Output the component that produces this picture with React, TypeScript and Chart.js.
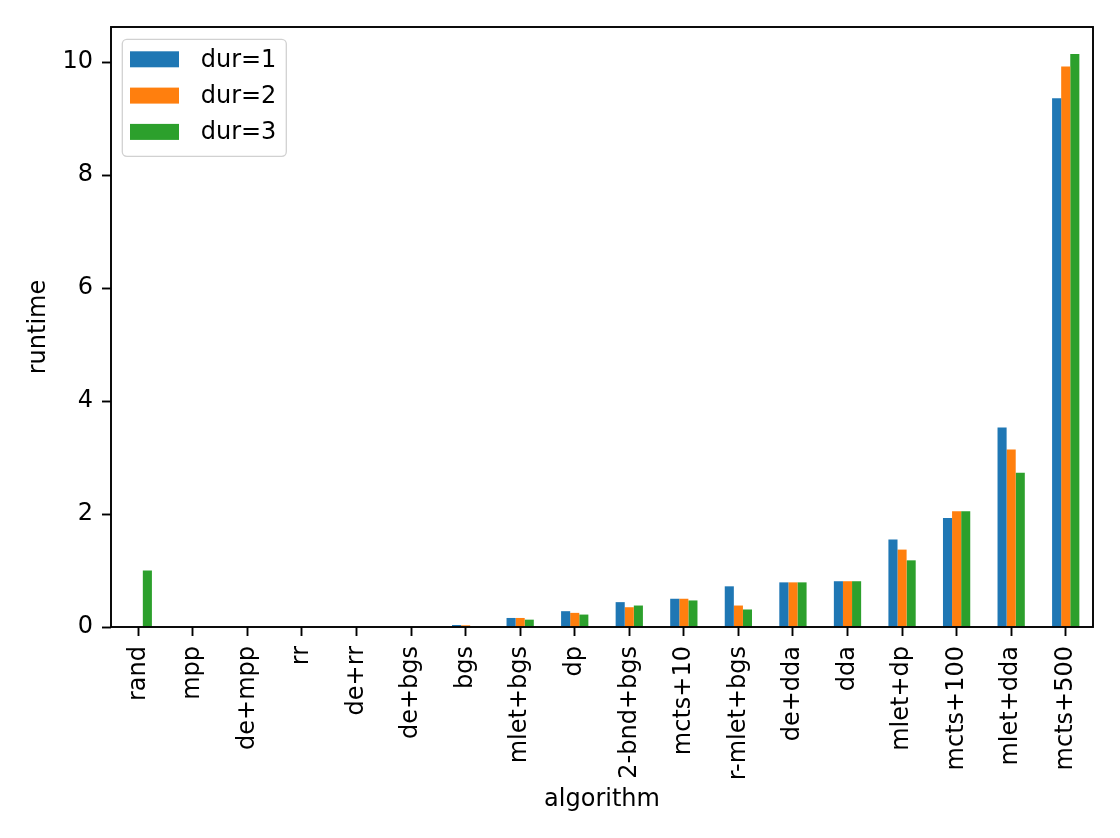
import React, { useEffect, useRef } from 'react';
import { Chart, registerables } from 'chart.js';

Chart.register(...registerables);

const categories = [
  'rand', 'mpp', 'de+mpp', 'rr', 'de+rr', 'de+bgs', 'bgs', 'mlet+bgs', 'dp',
  '2-bnd+bgs', 'mcts+10', 'r-mlet+bgs', 'de+dda', 'dda', 'mlet+dp', 'mcts+100',
  'mlet+dda', 'mcts+500',
];

const dur1 = [0, 0, 0, 0, 0, 0, 0.035, 0.16, 0.28, 0.44, 0.5, 0.72, 0.79, 0.81, 1.55, 1.93, 3.53, 9.36];
const dur2 = [0, 0, 0, 0, 0, 0, 0.03, 0.16, 0.25, 0.35, 0.5, 0.38, 0.79, 0.81, 1.37, 2.05, 3.14, 9.92];
const dur3 = [1.0, 0, 0, 0, 0, 0, 0.01, 0.13, 0.22, 0.38, 0.47, 0.31, 0.79, 0.81, 1.18, 2.05, 2.73, 10.14];

const seriesLabels = ['dur=1', 'dur=2', 'dur=3'];
const seriesColors = ['#1f77b4', '#ff7f0e', '#2ca02c'];
const yTickValues = [0, 2, 4, 6, 8, 10];

const FONT = 'DejaVu Sans';
const FS = 24;

const framePlugin = {
  id: 'mplFrame',
  afterDraw(chart: any) {
    const { ctx, chartArea } = chart;
    ctx.save();
    ctx.strokeStyle = '#000';
    ctx.lineWidth = 1.9;
    ctx.strokeRect(chartArea.left, chartArea.top, chartArea.right - chartArea.left, chartArea.bottom - chartArea.top);

    // legend
    const x0 = chartArea.left + 11.3;
    const y0 = chartArea.top + 12.3;
    ctx.beginPath();
    ctx.roundRect(x0, y0, 164, 117, 4.5);
    ctx.fillStyle = 'rgba(255,255,255,0.8)';
    ctx.fill();
    ctx.strokeStyle = 'rgba(204,204,204,0.9)';
    ctx.lineWidth = 1.3;
    ctx.stroke();
    ctx.font = `${FS}px "${FONT}"`;
    ctx.textBaseline = 'middle';
    ctx.textAlign = 'left';
    chart.data.datasets.forEach((ds: any, i: number) => {
      const cy = chartArea.top + 32.3 + i * 36.3;
      ctx.fillStyle = ds.backgroundColor;
      ctx.fillRect(chartArea.left + 19, cy - 8, 49, 16);
      ctx.fillStyle = '#000';
      ctx.fillText(ds.label, chartArea.left + 89.7, cy + 1);
    });
    ctx.restore();
  },
};

export default function App() {
  const ref = useRef<HTMLCanvasElement>(null);
  useEffect(() => {
    const values = [dur1, dur2, dur3];
    const chart = new Chart(ref.current as HTMLCanvasElement, {
      type: 'bar',
      data: {
        labels: categories,
        datasets: seriesLabels.map((label, i) => ({
          label,
          data: values[i],
          backgroundColor: seriesColors[i],
          borderWidth: 0,
          categoryPercentage: 0.5,
          barPercentage: 1.0,
        })),
      },
      options: {
        responsive: false,
        animation: false,
        layout: { padding: { top: 27, right: 27, left: 0, bottom: 0 } },
        plugins: {
          legend: { display: false },
          tooltip: { enabled: false },
        },
        scales: {
          x: {
            offset: true,
            grid: {
              display: true,
              offset: false,
              drawOnChartArea: false,
              drawTicks: true,
              tickLength: 9,
              tickWidth: 1.9,
              tickColor: '#000',
              color: '#000',
            },
            border: { display: false },
            ticks: {
              autoSkip: false,
              minRotation: 90,
              maxRotation: 90,
              padding: 10,
              color: '#000',
              font: { family: FONT, size: FS },
            },
            title: {
              display: true,
              text: 'algorithm',
              color: '#000',
              font: { family: FONT, size: FS },
              padding: { top: 0, bottom: 24 },
            },
            afterFit(scale: any) {
              scale.height = 211;
            },
          },
          y: {
            min: 0,
            max: 10.62,
            grid: {
              display: true,
              drawOnChartArea: false,
              drawTicks: true,
              tickLength: 9,
              tickWidth: 1.9,
              tickColor: '#000',
              color: '#000',
            },
            border: { display: false },
            afterBuildTicks(scale: any) {
              scale.ticks = yTickValues.map((value) => ({ value }));
            },
            ticks: {
              padding: 9,
              color: '#000',
              font: { family: FONT, size: FS },
            },
            title: {
              display: true,
              text: 'runtime',
              color: '#000',
              font: { family: FONT, size: FS },
              padding: { top: 24.3, bottom: 0 },
            },
            afterFit(scale: any) {
              scale.width = 111;
            },
          },
        },
      },
      plugins: [framePlugin],
    } as any);
    return () => chart.destroy();
  }, []);
  return (
    <div style={{ position: 'absolute', left: 0, top: 0, width: 1120, height: 838, background: '#fff' }}>
      <canvas ref={ref} width={1120} height={838} style={{ display: 'block' }} />
    </div>
  );
}
